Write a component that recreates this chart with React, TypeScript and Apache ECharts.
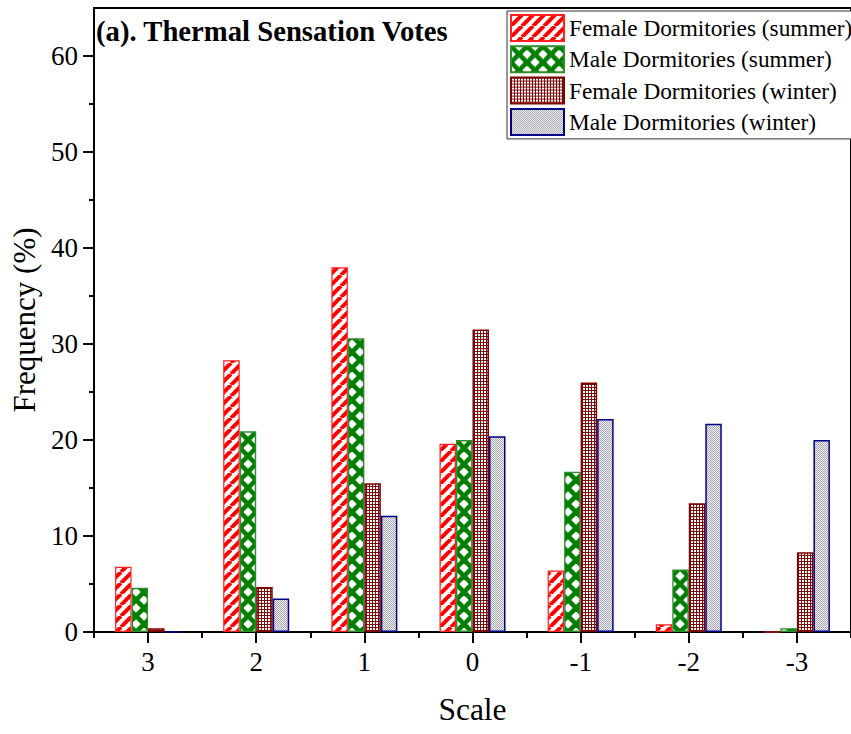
import React, { useEffect, useRef } from "react";
import * as echarts from "echarts";

const categories = ["3", "2", "1", "0", "-1", "-2", "-3"];
const seriesNames = [
  "Female Dormitories (summer)",
  "Male Dormitories (summer)",
  "Female Dormitories (winter)",
  "Male Dormitories (winter)",
];
const femaleSummer = [6.8, 28.3, 38.0, 19.6, 6.4, 0.8, 0];
const maleSummer = [4.6, 20.9, 30.6, 20.0, 16.7, 6.5, 0.4];
const femaleWinter = [0.4, 4.7, 15.5, 31.5, 26.0, 13.4, 8.3];
const maleWinter = [0, 3.5, 12.1, 20.4, 22.2, 21.7, 20.0];
const majorYTicks = [0, 10, 20, 30, 40, 50, 60];
const minorYTicks = [5, 15, 25, 35, 45, 55];

const FONT = "'Liberation Serif', 'Times New Roman', serif";

function makeCanvas(w: number, h: number, draw: (ctx: CanvasRenderingContext2D) => void) {
  const c = document.createElement("canvas");
  c.width = w;
  c.height = h;
  const ctx = c.getContext("2d")!;
  draw(ctx);
  return c;
}

function stripePattern() {
  const s = 11;
  return makeCanvas(s, s, (ctx) => {
    ctx.fillStyle = "#ffffff";
    ctx.fillRect(0, 0, s, s);
    ctx.strokeStyle = "#ff0000";
    ctx.lineWidth = 4;
    for (const o of [-s, 0, s]) {
      ctx.beginPath();
      ctx.moveTo(o, s);
      ctx.lineTo(o + s, 0);
      ctx.stroke();
    }
  });
}

function latticePattern() {
  const s = 16;
  return makeCanvas(s, s, (ctx) => {
    ctx.fillStyle = "#ffffff";
    ctx.fillRect(0, 0, s, s);
    ctx.strokeStyle = "#008000";
    ctx.lineWidth = 4.6;
    for (const o of [-s, 0, s]) {
      ctx.beginPath();
      ctx.moveTo(o, 0);
      ctx.lineTo(o + s, s);
      ctx.stroke();
      ctx.beginPath();
      ctx.moveTo(o + s, 0);
      ctx.lineTo(o, s);
      ctx.stroke();
    }
  });
}

function meshPattern() {
  const s = 3;
  return makeCanvas(s, s, (ctx) => {
    ctx.fillStyle = "#ffffff";
    ctx.fillRect(0, 0, s, s);
    ctx.fillStyle = "#7a0c0c";
    ctx.fillRect(0, 0, s, 1);
    ctx.fillRect(0, 0, 1, s);
  });
}

function dotPattern() {
  const s = 2;
  return makeCanvas(s, s, (ctx) => {
    ctx.fillStyle = "#f2f2f4";
    ctx.fillRect(0, 0, s, s);
    ctx.fillStyle = "#a6a6ae";
    ctx.fillRect(0, 0, 1, 1);
    ctx.fillRect(1, 1, 1, 1);
  });
}

export default function App() {
  const ref = useRef<HTMLDivElement>(null);

  useEffect(() => {
    document.body.style.margin = "0";
    const chart = echarts.init(ref.current!, null, { renderer: "svg" });

    const styles = [
      { color: { image: stripePattern(), repeat: "repeat" }, borderColor: "#ff2020", borderWidth: 1.2 },
      { color: { image: latticePattern(), repeat: "repeat" }, borderColor: "#2e8b2e", borderWidth: 1.4 },
      { color: { image: meshPattern(), repeat: "repeat" }, borderColor: "#800000", borderWidth: 1.5 },
      { color: { image: dotPattern(), repeat: "repeat" }, borderColor: "#00008b", borderWidth: 1.5 },
    ];
    const datasets = [femaleSummer, maleSummer, femaleWinter, maleWinter];

    const option: any = {
      animation: false,
      backgroundColor: "#ffffff",
      title: {
        text: "(a). Thermal Sensation Votes",
        left: 96,
        top: 16,
        padding: 0,
        textStyle: { fontFamily: FONT, fontSize: 28.7, fontWeight: "bold", color: "#000" },
      },
      legend: {
        orient: "vertical",
        left: 507,
        top: 11,
        icon: "rect",
        itemWidth: 53,
        itemHeight: 26,
        itemGap: 3.3,
        padding: [3, 3, 3, 3],
        borderColor: "#333",
        borderWidth: 1,
        backgroundColor: "#fff",
        textStyle: { fontFamily: FONT, fontSize: 23.3, lineHeight: 26, color: "#000" },
        data: seriesNames,
      },
      grid: {
        left: 94,
        top: 8,
        width: 767,
        height: 624,
        show: true,
        borderColor: "#000",
        borderWidth: 2,
        containLabel: false,
      },
      xAxis: [
        {
          type: "category",
          data: categories,
          position: "bottom",
          axisLine: { show: true, lineStyle: { color: "#000", width: 2 } },
          axisTick: { show: true, alignWithLabel: true, length: 11, lineStyle: { color: "#000", width: 2 } },
          axisLabel: { fontFamily: FONT, fontSize: 27, color: "#000", margin: 16 },
          name: "Scale",
          nameLocation: "middle",
          nameGap: 61,
          nameTextStyle: { fontFamily: FONT, fontSize: 31.5, color: "#000" },
        },
        {
          type: "category",
          data: categories,
          position: "bottom",
          axisLine: { show: false },
          axisTick: { show: true, length: 6, lineStyle: { color: "#000", width: 2 } },
          axisLabel: { show: false },
        },
      ],
      yAxis: [
        {
          type: "value",
          min: 0,
          max: 65,
          position: "left",
          splitLine: { show: false },
          axisLine: { show: true, lineStyle: { color: "#000", width: 2 } },
          axisTick: { show: true, length: 11, customValues: majorYTicks, lineStyle: { color: "#000", width: 2 } },
          axisLabel: { fontFamily: FONT, fontSize: 27, color: "#000", margin: 16, customValues: majorYTicks },
          name: "Frequency (%)",
          nameLocation: "middle",
          nameRotate: 90,
          nameGap: 54,
          nameTextStyle: { fontFamily: FONT, fontSize: 31, color: "#000" },
        },
        {
          type: "value",
          min: 0,
          max: 65,
          position: "left",
          splitLine: { show: false },
          axisLine: { show: false },
          axisTick: { show: true, length: 5, customValues: minorYTicks, lineStyle: { color: "#000", width: 2 } },
          axisLabel: { show: false },
        },
      ],
      series: datasets.map((d, i) => ({
        name: seriesNames[i],
        type: "bar",
        xAxisIndex: 0,
        yAxisIndex: 0,
        data: d,
        barWidth: 16.5,
        barGap: "0%",
        itemStyle: styles[i],
      })),
    };

    chart.setOption(option);
    return () => chart.dispose();
  }, []);

  return <div ref={ref} style={{ width: 851, height: 734 }} />;
}
